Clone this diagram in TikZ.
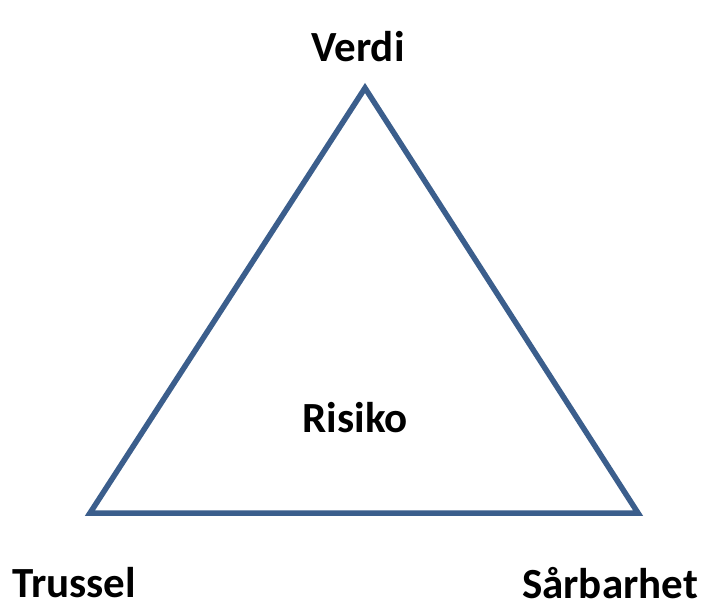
\documentclass[tikz,border=0pt]{standalone}
\usepackage{fontspec}
\setmainfont{Carlito}
\definecolor{edgeblue}{HTML}{3B5E8C}
\begin{document}
\begin{tikzpicture}[x=1pt,y=-1pt,
  lbl/.style={font=\fontsize{43}{50}\selectfont\bfseries, inner sep=0pt, anchor=base},
  side/.style={draw=edgeblue, line width=5.5pt, line join=miter}]
\useasboundingbox (0,0) rectangle (704,610);
% corners of the triangle
\coordinate (top) at (365,88);
\coordinate (left) at (90,513);
\coordinate (right) at (638,513);
\draw[side] (top) -- (right) -- (left) -- cycle;
% labels
\node[lbl] (verdi) at (358,62) {Verdi};
\node[lbl] (risiko) at (355,432) {Risiko};
\node[lbl] (trussel) at (74,597) {Trussel};
\node[lbl] (sarbarhet) at (610,598) {Sårbarhet};
\end{tikzpicture}
\end{document}
